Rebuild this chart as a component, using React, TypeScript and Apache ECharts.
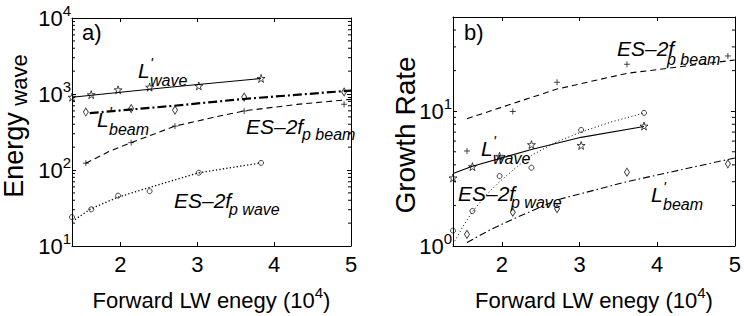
import { useEffect, useRef } from 'react';
import * as echarts from 'echarts';

const FONT = '"Liberation Sans", Arial, Helvetica, sans-serif';

// shared x positions
const waveX = [1.37, 1.62, 1.97, 2.38, 3.02, 3.83];
const beamX = [1.55, 2.14, 2.71, 3.61, 4.91];

// axis ticks
const xTicks = [2, 3, 4, 5];
const xTopTicks = [2, 3, 4];
const aYTicks = [10, 100, 1000, 10000];
const bYTicks = [1, 10];
const aMinor = [20, 30, 40, 50, 60, 70, 80, 90, 200, 300, 400, 500, 600, 700, 800, 900, 2000, 3000, 4000, 5000, 6000, 7000, 8000, 9000];
const bMinor = [2, 3, 4, 5, 6, 7, 8, 9, 20, 30, 40];

// panel a markers
const aLwave = [907, 979, 1135, 1230, 1277, 1603];
const aLbeam = [579, 643, 614, 910, 1062];
const aESbeam = [123, 229, 378, 597, 733];
const aESwave = [24, 30.4, 46, 52.7, 92, 124];

// panel a fit curves
const aLwaveFitX = [1.37, 2.6, 3.83];
const aLwaveFit = [907, 1220, 1600];
const aLbeamFitX = [1.6, 2.7, 3.6, 5.0];
const aLbeamFit = [560, 700, 860, 1110];
const aESbeamFitX = [1.55, 1.85, 2.14, 2.71, 3.2, 3.61, 4.3, 5.0];
const aESbeamFit = [123, 175, 229, 378, 490, 600, 730, 850];
const aESwaveFitX = [1.37, 1.62, 1.97, 2.38, 3.02, 3.83];
const aESwaveFit = [21, 31, 44, 59, 92, 124];

// panel b markers
const bESbeam = [5.07, 9.95, 16.4, 22.3, 25.7];
const bLwave = [3.2, 3.88, 4.63, 5.65, 5.57, 7.76];
const bESwave = [1.3, 1.82, 3.3, 3.81, 7.26, 9.72];
const bLbeam = [1.22, 1.78, 1.89, 3.53, 4.07];

// panel b fit curves
const bESbeamFitX = [1.55, 2.14, 2.71, 3.61, 5.0];
const bESbeamFit = [8.8, 11.4, 14.6, 19.1, 24];
const bLwaveFitX = [1.37, 1.62, 2.38, 3.02, 3.83];
const bLwaveFit = [3.45, 3.9, 5.2, 6.4, 7.7];
const bESwaveFitX = [1.37, 1.5, 1.62, 1.8, 1.97, 2.2, 2.38, 2.7, 3.02, 3.4, 3.83];
const bESwaveFit = [1.03, 1.4, 1.8, 2.4, 3.0, 3.9, 4.7, 5.9, 7.0, 8.3, 9.7];
const bLbeamFitX = [1.55, 1.85, 2.14, 2.71, 3.61, 5.0];
const bLbeamFit = [1.06, 1.32, 1.58, 2.2, 3.0, 4.5];

const XMIN = 1.37;
const XMAX = 5;

const STAR = 'path://M0,-1L0.223,-0.307L0.951,-0.309L0.361,0.117L0.588,0.809L0,0.38L-0.588,0.809L-0.361,0.117L-0.951,-0.309L-0.223,-0.307Z';
const PLUS = 'path://M0,-1L0,1M-1,0L1,0';

const titleRich = {
  t: { fontSize: 22, fontFamily: FONT, color: '#000', lineHeight: 30 },
  s: { fontSize: 15, fontFamily: FONT, color: '#000', lineHeight: 15, verticalAlign: 'top' },
};

function makeX(gridIndex: number, bottom: boolean) {
  const ax: any = {
    type: 'value',
    gridIndex,
    min: XMIN,
    max: XMAX,
    position: bottom ? 'bottom' : 'top',
    axisLine: { show: true, onZero: false, lineStyle: { color: '#000', width: 1 } },
    axisTick: { show: true, inside: true, length: 4, customValues: bottom ? xTicks : xTopTicks, lineStyle: { color: '#000', width: 1 } },
    axisLabel: bottom
      ? { show: true, customValues: xTicks, color: '#000', fontSize: 22, fontFamily: FONT, margin: 7 }
      : { show: false },
    splitLine: { show: false },
  };
  if (bottom) {
    ax.name = '{t|Forward LW enegy (10}{s|4}{t|)}';
    ax.nameLocation = 'middle';
    ax.nameGap = 39;
    ax.nameTextStyle = { rich: titleRich };
  }
  return ax;
}

function makeY(gridIndex: number, left: boolean, min: number, max: number, ticks: number[]) {
  return {
    type: 'log',
    logBase: 10,
    gridIndex,
    min,
    max,
    position: left ? 'left' : 'right',
    axisLine: { show: true, onZero: false, lineStyle: { color: '#000', width: 1 } },
    axisTick: { show: true, inside: true, length: 4, customValues: ticks, lineStyle: { color: '#000', width: 1 } },
    axisLabel: left
      ? {
          show: true,
          customValues: ticks,
          margin: 1,
          formatter: (v: number) => `{b|10}{s|${Math.round(Math.log10(v))}}`,
          rich: {
            b: { fontSize: 22, fontFamily: FONT, color: '#000', lineHeight: 30 },
            s: { fontSize: 15, fontFamily: FONT, color: '#000', lineHeight: 15, verticalAlign: 'top' },
          },
        }
      : { show: false },
    splitLine: { show: false },
  };
}

function fit(xs: number[], ys: number[], xi: number, yi: number, type: any, width: number) {
  return {
    type: 'line',
    xAxisIndex: xi,
    yAxisIndex: yi,
    data: xs.map((x, i) => [x, ys[i]]),
    symbol: 'none',
    smooth: false,
    lineStyle: { color: '#000', width, type },
    silent: true,
    z: 2,
  };
}

function marks(xs: number[], ys: number[], xi: number, yi: number, symbol: string, size: any) {
  return {
    type: 'scatter',
    xAxisIndex: xi,
    yAxisIndex: yi,
    data: xs.map((x, i) => [x, ys[i]]),
    symbol,
    symbolSize: size,
    itemStyle: { color: 'rgba(0,0,0,0)', borderColor: '#000', borderWidth: 0.9 },
    clip: false,
    silent: true,
    z: 3,
  };
}

function minorTicks(values: number[], xi: number, yi: number) {
  return {
    type: 'custom',
    xAxisIndex: xi,
    yAxisIndex: yi,
    data: values.map((v) => [XMIN, v]),
    silent: true,
    renderItem: (_p: any, api: any) => {
      const v = api.value(1);
      const l = api.coord([XMIN, v]);
      const r = api.coord([XMAX, v]);
      return {
        type: 'group',
        children: [
          { type: 'line', shape: { x1: l[0], y1: l[1], x2: l[0] + 3, y2: l[1] }, style: { stroke: '#000', lineWidth: 1 } },
          { type: 'line', shape: { x1: r[0] - 3, y1: r[1], x2: r[0], y2: r[1] }, style: { stroke: '#000', lineWidth: 1 } },
        ],
      };
    },
  };
}

function txt(x: number, y: number, text: string, size: number, italic = true, rotation = 0, align = 'left') {
  return {
    type: 'text',
    x,
    y,
    rotation,
    silent: true,
    style: {
      text,
      fontSize: size,
      fontFamily: FONT,
      fontStyle: italic ? 'italic' : 'normal',
      fill: '#000',
      align,
      verticalAlign: 'middle',
    },
    z: 10,
  };
}

const M = 21; // annotation main size
const S = 16; // annotation subscript size

// L' with subscript: main "L", raised prime, subscript word
function lPrime(x: number, y: number, sub: string) {
  return [txt(x, y, 'L', M), txt(x + 12, y - 8, "'", 15), txt(x + 12, y + 10, sub, S)];
}

const option: any = {
  animation: false,
  backgroundColor: '#fff',
  grid: [
    { left: 72, top: 18, width: 279, height: 234 },
    { left: 453, top: 17, width: 289, height: 235 },
  ],
  xAxis: [makeX(0, true), makeX(0, false), makeX(1, true), makeX(1, false)],
  yAxis: [
    makeY(0, true, 10, 10000, aYTicks),
    makeY(0, false, 10, 10000, aYTicks),
    makeY(1, true, 1, 50, bYTicks),
    makeY(1, false, 1, 50, bYTicks),
  ],
  series: [
    minorTicks(aMinor, 0, 0),
    minorTicks(bMinor, 2, 2),
    // panel a
    fit(aLwaveFitX, aLwaveFit, 0, 0, 'solid', 1.1),
    fit(aLbeamFitX, aLbeamFit, 0, 0, [9, 3, 2, 3], 2.2),
    fit(aESbeamFitX, aESbeamFit, 0, 0, [6, 4], 1.1),
    fit(aESwaveFitX, aESwaveFit, 0, 0, [1.3, 2.2], 1.3),
    marks(waveX, aLwave, 0, 0, STAR, 8),
    marks(beamX, aLbeam, 0, 0, 'diamond', [5, 8]),
    marks(beamX, aESbeam, 0, 0, PLUS, 6),
    marks(waveX, aESwave, 0, 0, 'circle', 5),
    // panel b
    fit(bESbeamFitX, bESbeamFit, 2, 2, [6, 4], 1.1),
    fit(bLwaveFitX, bLwaveFit, 2, 2, 'solid', 1.1),
    fit(bESwaveFitX, bESwaveFit, 2, 2, [1, 2.5], 1),
    fit(bLbeamFitX, bLbeamFit, 2, 2, [7, 3, 1.5, 3], 1.1),
    marks(beamX, bESbeam, 2, 2, PLUS, 6),
    marks(waveX, bLwave, 2, 2, STAR, 8),
    marks(waveX, bESwave, 2, 2, 'circle', 5),
    marks(beamX, bLbeam, 2, 2, 'diamond', [5, 8]),
  ],
  graphic: [
    // y titles
    txt(14, 155, 'Energy', 27, false, Math.PI / 2, 'center'),
    txt(19, 80, 'wave', 22, false, Math.PI / 2, 'center'),
    txt(405, 135, 'Growth Rate', 28, false, Math.PI / 2, 'center'),
    // panel labels
    txt(82, 32, 'a)', 22, false),
    txt(464, 32, 'b)', 22, false),
    // panel a annotations
    ...lPrime(138, 70, 'wave'),
    ...lPrime(97, 119, 'beam'),
    txt(246, 126, 'ES–2f', M),
    txt(302, 134, 'p beam', S),
    txt(174, 200, 'ES–2f', M),
    txt(229, 209, 'p wave', S),
    // panel b annotations
    txt(617, 48, 'ES–2f', M),
    txt(667, 59, 'p beam', S),
    ...lPrime(481, 148, 'wave'),
    txt(458, 193, 'ES–2f', M),
    txt(511, 202, 'p wave', S),
    ...lPrime(651, 194, 'beam'),
  ],
};

export default function App() {
  const ref = useRef<HTMLDivElement>(null);
  useEffect(() => {
    const chart = echarts.init(ref.current!, null, { renderer: 'svg' });
    chart.setOption(option);
    return () => chart.dispose();
  }, []);
  return <div ref={ref} style={{ position: 'absolute', left: 0, top: 0, width: 744, height: 316 }} />;
}
